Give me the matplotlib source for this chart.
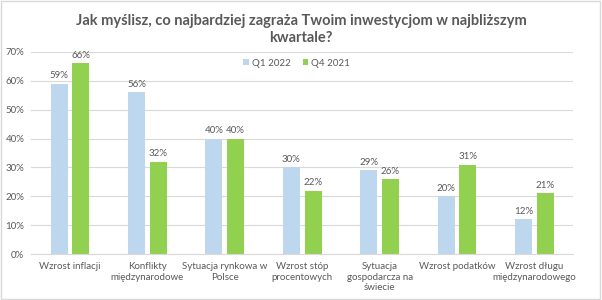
import matplotlib
matplotlib.use("Agg")
import matplotlib.pyplot as plt
import numpy as np
from matplotlib.patches import Rectangle

plt.rcParams['font.family'] = ['Lato', 'DejaVu Sans']

# categories and values
categories = ["Wzrost inflacji", "Konflikty\nmiędzynarodowe", "Sytuacja rynkowa w\nPolsce",
              "Wzrost stóp\nprocentowych", "Sytuacja\ngospodarcza na\nświecie",
              "Wzrost podatków", "Wzrost długu\nmiędzynarodowego"]
q1_2022 = [59, 56, 40, 30, 29, 20, 12]
q4_2021 = [66, 32, 40, 22, 26, 31, 21]
series_names = ["Q1 2022", "Q4 2021"]

text_col = "#595959"
blue = "#BDD7EE"
green = "#92D050"

fig = plt.figure(figsize=(6.02, 3.0), dpi=100)
ax = fig.add_axes([0.052, 0.153, 0.9, 0.674])

x = np.arange(len(categories))
w = 0.22
gap = 0.03
b1 = ax.bar(x - w / 2 - gap, q1_2022, w, color=blue, label=series_names[0], zorder=2)
b2 = ax.bar(x + w / 2 + gap, q4_2021, w, color=green, label=series_names[1], zorder=2)

for bars, vals in [(b1, q1_2022), (b2, q4_2021)]:
    for r, v in zip(bars, vals):
        ax.text(r.get_x() + r.get_width() / 2, v + 1.2, f"{v}%", ha="center", va="bottom",
                fontsize=7, color=text_col)

ax.set_ylim(0, 70)
ax.set_xlim(-0.5, len(categories) - 0.5)
ax.set_yticks(range(0, 71, 10))
ax.set_yticklabels([f"{t}%" for t in range(0, 71, 10)])
ax.set_xticks(x)
ax.set_xticklabels(categories)
ax.tick_params(axis="both", length=0, labelsize=7, colors=text_col)
ax.tick_params(axis="x", pad=6)
ax.tick_params(axis="y", pad=5)
ax.grid(axis="y", color="#D9D9D9", linewidth=0.8, zorder=0)
for s in ["top", "right", "left"]:
    ax.spines[s].set_visible(False)
ax.spines["bottom"].set_color("#D9D9D9")

ax.legend(loc="upper center", bbox_to_anchor=(0.49, 1.01), ncol=2, frameon=False,
          fontsize=7, labelcolor=text_col, handlelength=0.6, handleheight=0.6,
          handletextpad=0.3, columnspacing=1.2)

fig.text(0.5, 0.955, "Jak myślisz, co najbardziej zagraża Twoim inwestycjom w najbliższym\nkwartale?",
         ha="center", va="top", fontsize=10.5, fontweight="bold", color=text_col,
         linespacing=1.3)

fig.patches.append(Rectangle((0.002, 0.003), 0.995, 0.993, transform=fig.transFigure,
                             fill=False, edgecolor="#D9D9D9", linewidth=1))

fig.savefig("out.png", dpi=100)
